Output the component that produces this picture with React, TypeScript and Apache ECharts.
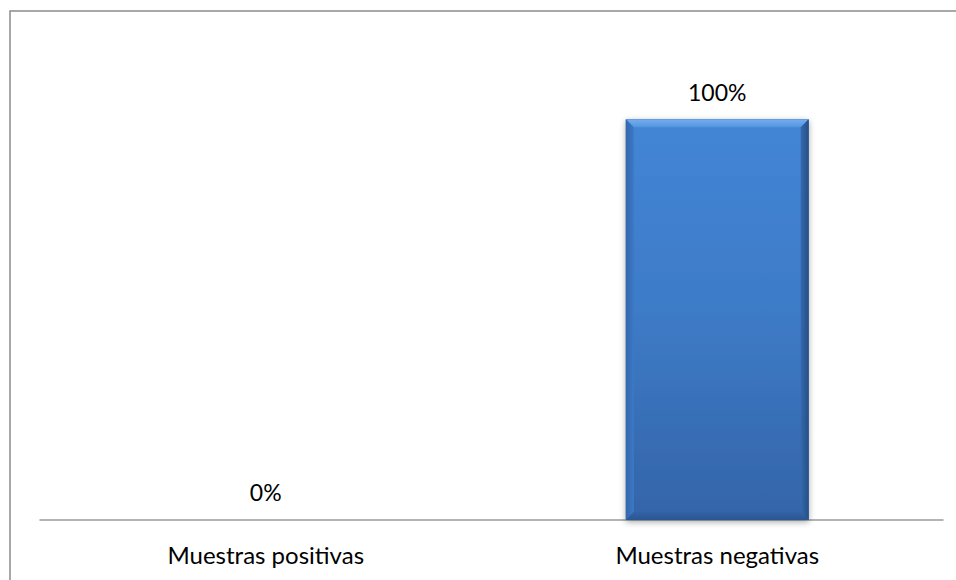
import React, { useEffect, useRef } from "react";
import * as echarts from "echarts";

const categories = ["Muestras positivas", "Muestras negativas"];
const values = [0, 1];

const FONT = "Lato, 'Open Sans', sans-serif";
const BAR_RATIO = 0.405;
const BEVEL = 8;

export default function App() {
  const ref = useRef<HTMLDivElement>(null);
  useEffect(() => {
    const chart = echarts.init(ref.current!, null, { renderer: "svg" });
    chart.setOption({
      animation: false,
      backgroundColor: "#ffffff",
      grid: { left: 40, right: 13, top: 39, bottom: 60, containLabel: false },
      xAxis: {
        type: "category",
        data: categories,
        axisLine: { lineStyle: { color: "#9a9a9a", width: 1.5 } },
        axisTick: { show: false },
        axisLabel: {
          color: "#000000",
          fontFamily: FONT,
          fontSize: 24,
          margin: 22,
        },
      },
      yAxis: {
        type: "value",
        min: 0,
        max: 1.2,
        show: false,
        splitLine: { show: false },
      },
      series: [
        {
          type: "bar",
          data: values,
          barWidth: BAR_RATIO * 100 + "%",
          itemStyle: {
            color: new echarts.graphic.LinearGradient(0, 0, 0, 1, [
              { offset: 0, color: "#4386d6" },
              { offset: 0.5, color: "#3d7ac6" },
              { offset: 1, color: "#3464a8" },
            ]),
            borderColor: "#2b578f",
            borderWidth: 0.8,
            shadowColor: "rgba(0,0,0,0.35)",
            shadowBlur: 6,
            shadowOffsetY: 2,
          },
          label: {
            show: true,
            position: "top",
            distance: 16,
            color: "#000000",
            fontFamily: FONT,
            fontSize: 23,
            formatter: (p: any) => `${Math.round(p.value * 100)}%`,
          },
          z: 2,
        },
        {
          type: "custom",
          data: values.map((v, i) => [i, v]),
          z: 3,
          silent: true,
          renderItem: (params: any, api: any) => {
            const v = api.value(1);
            if (!v) return { type: "group", children: [] };
            const top = api.coord([api.value(0), v]);
            const base = api.coord([api.value(0), 0]);
            const w = api.size([1, 0])[0] * BAR_RATIO;
            const x0 = top[0] - w / 2;
            const x1 = top[0] + w / 2;
            const y0 = top[1];
            const y1 = base[1];
            const b = BEVEL;
            return {
              type: "group",
              children: [
                {
                  type: "polygon",
                  shape: { points: [[x0, y0], [x1, y0], [x1 - b, y0 + b], [x0 + b, y0 + b]] },
                  style: {
                    fill: new echarts.graphic.LinearGradient(0, 0, 0, 1, [
                      { offset: 0, color: "#74aef0" },
                      { offset: 1, color: "#5595e0" },
                    ]),
                  },
                },
                {
                  type: "polygon",
                  shape: { points: [[x0, y0], [x0 + b, y0 + b], [x0 + b, y1 - b], [x0, y1]] },
                  style: {
                    fill: new echarts.graphic.LinearGradient(0, 0, 1, 0, [
                      { offset: 0, color: "#3167ad" },
                      { offset: 1, color: "#3c79c5" },
                    ]),
                  },
                },
                {
                  type: "polygon",
                  shape: { points: [[x1, y0], [x1 - b, y0 + b], [x1 - b, y1 - b], [x1, y1]] },
                  style: {
                    fill: new echarts.graphic.LinearGradient(1, 0, 0, 0, [
                      { offset: 0, color: "#264f86" },
                      { offset: 1, color: "#3469ae" },
                    ]),
                  },
                },
                {
                  type: "polygon",
                  shape: { points: [[x0, y1], [x1, y1], [x1 - b, y1 - b], [x0 + b, y1 - b]] },
                  style: {
                    fill: new echarts.graphic.LinearGradient(0, 1, 0, 0, [
                      { offset: 0, color: "#2a5590" },
                      { offset: 1, color: "#3363a6" },
                    ]),
                  },
                },
              ],
            };
          },
        },
      ],
      graphic: [
        {
          type: "rect",
          shape: { x: 10, y: 11, width: 1000, height: 1000 },
          style: { fill: "none", stroke: "#8c8c8c", lineWidth: 1.5 },
          silent: true,
        },
      ],
    });
    return () => chart.dispose();
  }, []);
  return (
    <div
      ref={ref}
      style={{ position: "fixed", left: 0, top: 0, width: 956, height: 580 }}
    />
  );
}
